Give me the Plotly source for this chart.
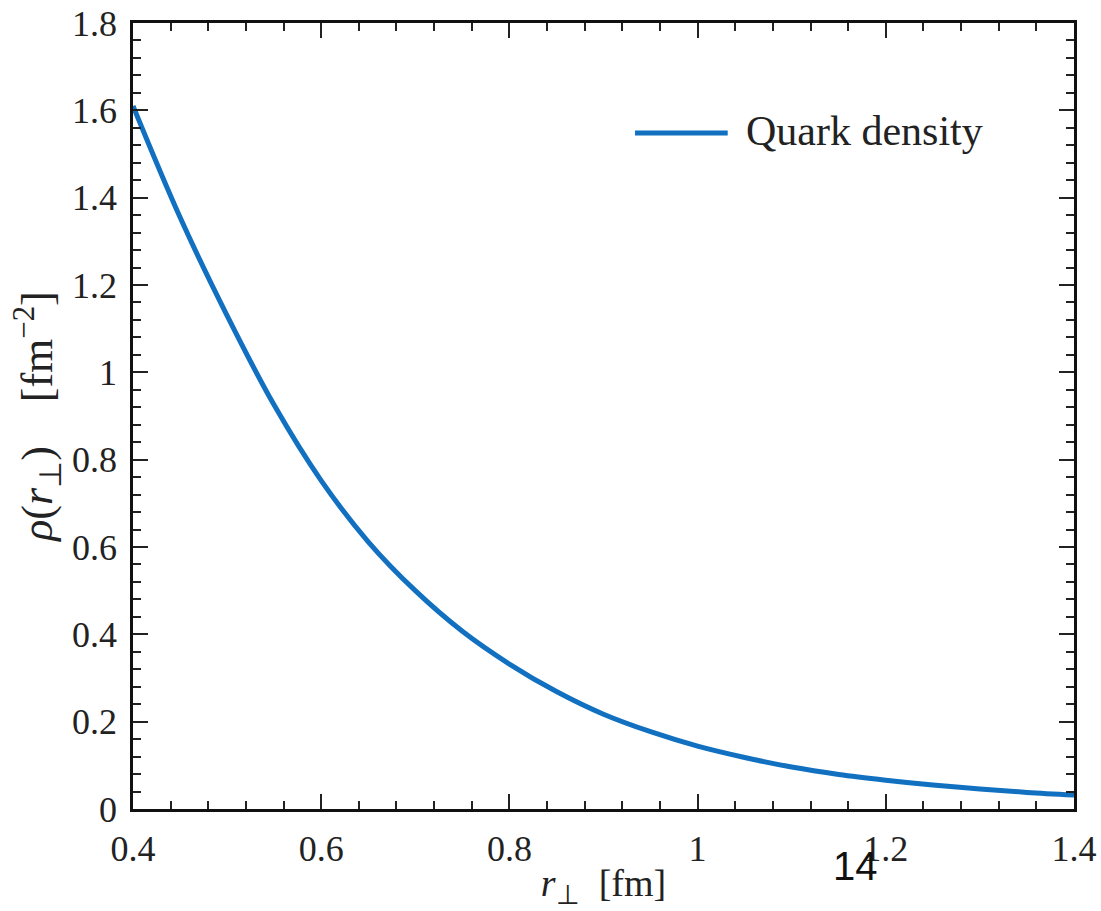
import plotly.graph_objects as go

# values
r_perp = [0.40, 0.45, 0.50, 0.55, 0.60, 0.65, 0.70, 0.75, 0.80, 0.85, 0.90,
          0.95, 1.00, 1.05, 1.10, 1.15, 1.20, 1.25, 1.30, 1.35, 1.40]
rho = [1.61, 1.355, 1.13, 0.925, 0.752, 0.612, 0.50, 0.407, 0.332, 0.269, 0.217,
       0.177, 0.144, 0.118, 0.096, 0.079, 0.066, 0.055, 0.046, 0.038, 0.032]
series_name = "Quark density"

serif = "Liberation Serif"
ink = "#222222"

fig = go.Figure(go.Scatter(
    x=r_perp, y=rho, mode="lines", name=series_name,
    line=dict(color="#1170c0", width=5, shape="spline"),
    showlegend=False,
))

axis_common = dict(
    showgrid=False, zeroline=False, automargin=False,
    showline=True, linecolor="#111111", linewidth=2.5, mirror="allticks",
    ticks="inside", ticklen=15, tickwidth=2, tickcolor="#222222",
    tickfont=dict(family=serif, size=36, color=ink),
    minor=dict(ticks="inside", ticklen=8, tickwidth=2, tickcolor="#222222"),
)

fig.update_xaxes(
    range=[0.4, 1.4], dtick=0.2, tick0=0.4, minor_dtick=0.04,
    title=dict(text="<i>r</i><sub>⊥</sub>  [fm]", font=dict(family=serif, size=38, color=ink),
               standoff=2),
    ticklabelstandoff=6,
    **axis_common,
)
fig.update_yaxes(
    range=[0, 1.8], dtick=0.2, tick0=0, minor_dtick=0.04,
    title=dict(text="<i>ρ</i>(<i>r</i><sub>⊥</sub>)\u00a0\u00a0\u00a0\u00a0[fm<sup>−2</sup>]",
               font=dict(family=serif, size=44, color=ink), standoff=6),
    ticklabelstandoff=6,
    **axis_common,
)

# legend drawn by hand to match the long sample line
fig.add_shape(type="line", xref="paper", yref="paper",
              x0=0.5335, x1=0.632, y0=0.860, y1=0.860,
              line=dict(color="#1170c0", width=5))
fig.add_annotation(xref="paper", yref="paper", x=0.649, y=0.862,
                   xanchor="left", yanchor="middle", showarrow=False,
                   text=series_name, font=dict(family=serif, size=42, color=ink))

# page number overlay
fig.add_annotation(xref="paper", yref="paper", x=(855 - 133) / 941, y=-(866 - 809) / 786,
                   xanchor="center", yanchor="middle", showarrow=False,
                   text="14", font=dict(family="Liberation Sans", size=40, color="#111111"))

fig.update_layout(
    width=1101, height=911,
    margin=dict(l=133, r=27, t=23, b=102),
    paper_bgcolor="white", plot_bgcolor="white",
)

# drop the default body margin so the figure fills the window exactly
fig.write_html("out.html", config={"displayModeBar": False},
               post_script="document.body.style.margin='0';")
